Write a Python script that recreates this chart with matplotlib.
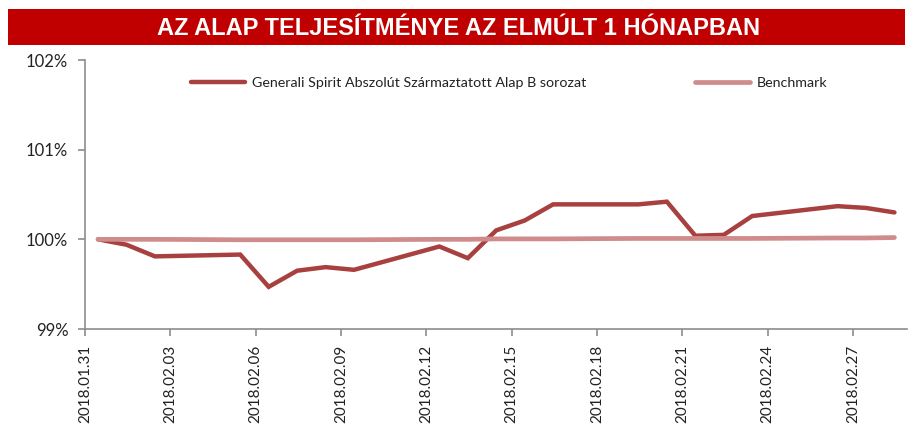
import numpy as np
import pandas as pd
import matplotlib
matplotlib.use('Agg')
import matplotlib.pyplot as plt
import matplotlib.dates as mdates
from matplotlib.patches import Rectangle

# data (business days only, in percent)
DATES = ['2018-01-31', '2018-02-01', '2018-02-02', '2018-02-05', '2018-02-06',
         '2018-02-07', '2018-02-08', '2018-02-09', '2018-02-12', '2018-02-13',
         '2018-02-14', '2018-02-15', '2018-02-16', '2018-02-19', '2018-02-20',
         '2018-02-21', '2018-02-22', '2018-02-23', '2018-02-26', '2018-02-27',
         '2018-02-28']
FUND = [100.00, 99.94, 99.81, 99.83, 99.47, 99.65, 99.69, 99.66, 99.92, 99.79,
        100.10, 100.21, 100.39, 100.39, 100.42, 100.04, 100.05, 100.26, 100.37,
        100.35, 100.30]
BENCH = [100.00, 100.00, 100.00, 99.995, 99.995, 99.995, 99.995, 99.995, 100.00, 100.00,
         100.005, 100.005, 100.005, 100.01, 100.01, 100.01, 100.01, 100.01, 100.015,
         100.015, 100.02]
FUND_LABEL = 'Generali Spirit Abszolút Származtatott Alap B sorozat'
BENCH_LABEL = 'Benchmark'
TITLE = 'AZ ALAP TELJESÍTMÉNYE AZ ELMÚLT 1 HÓNAPBAN'
Y_TICKS = [99, 100, 101, 102]

FUND_COLOR = '#A8403F'
BENCH_COLOR = '#D08C8C'
AXIS_COLOR = '#8C8C8C'
TEXT_COLOR = '#222222'

dates = pd.to_datetime(DATES)
# excel date axis puts the points a bit after the day's tick
x = dates + pd.Timedelta(hours=11)
start = pd.Timestamp('2018-01-31')
tick_dates = pd.date_range(start, periods=10, freq='3D')

fig = plt.figure(figsize=(9.1, 4.26), dpi=100)

# red title banner
fig.patches.append(Rectangle((8 / 910, 1 - 45 / 426), 897 / 910, 36 / 426,
                             transform=fig.transFigure, facecolor='#C00000',
                             edgecolor='none', zorder=0))
fig.text(0.5035, 1 - 28.5 / 426, TITLE, color='white', fontsize=17, fontweight='bold',
         ha='center', va='center', family=['Liberation Sans', 'DejaVu Sans'])

ax = fig.add_axes([85 / 910, 1 - 329 / 426, 822 / 910, 269 / 426])
ax.plot(x, FUND, color=FUND_COLOR, linewidth=3.2, solid_capstyle='round',
        solid_joinstyle='miter', label=FUND_LABEL, zorder=2)
ax.plot(x, BENCH, color=BENCH_COLOR, linewidth=3.4, solid_capstyle='round',
        label=BENCH_LABEL, zorder=3)

ax.set_ylim(99, 102)
ax.set_yticks(Y_TICKS)
ax.set_yticklabels([f'{v}%' for v in Y_TICKS], family='Lato', fontsize=12)
ax.set_xlim(start, start + pd.Timedelta(days=28.9))
ax.set_xticks(tick_dates)
ax.xaxis.set_major_formatter(mdates.DateFormatter('%Y.%m.%d'))
for lbl in ax.get_xticklabels():
    lbl.set_rotation(90)
    lbl.set_fontsize(11)
    lbl.set_family('Lato')
    lbl.set_color(TEXT_COLOR)

for side in ['top', 'right']:
    ax.spines[side].set_visible(False)
for side in ['left', 'bottom']:
    ax.spines[side].set_color(AXIS_COLOR)
    ax.spines[side].set_linewidth(1.2)
ax.tick_params(axis='both', color=AXIS_COLOR, width=1.2, length=5, direction='out')
ax.tick_params(axis='y', pad=7, labelcolor=TEXT_COLOR)
ax.tick_params(axis='x', pad=6)

leg = ax.legend(loc='upper center', bbox_to_anchor=(0.516, 0.985), ncol=2,
                frameon=False, handlelength=3.8, handletextpad=0.5,
                columnspacing=7.6, prop={'family': 'Lato', 'size': 10.3})
for t in leg.get_texts():
    t.set_color(TEXT_COLOR)

fig.savefig('out.png', dpi=100)
